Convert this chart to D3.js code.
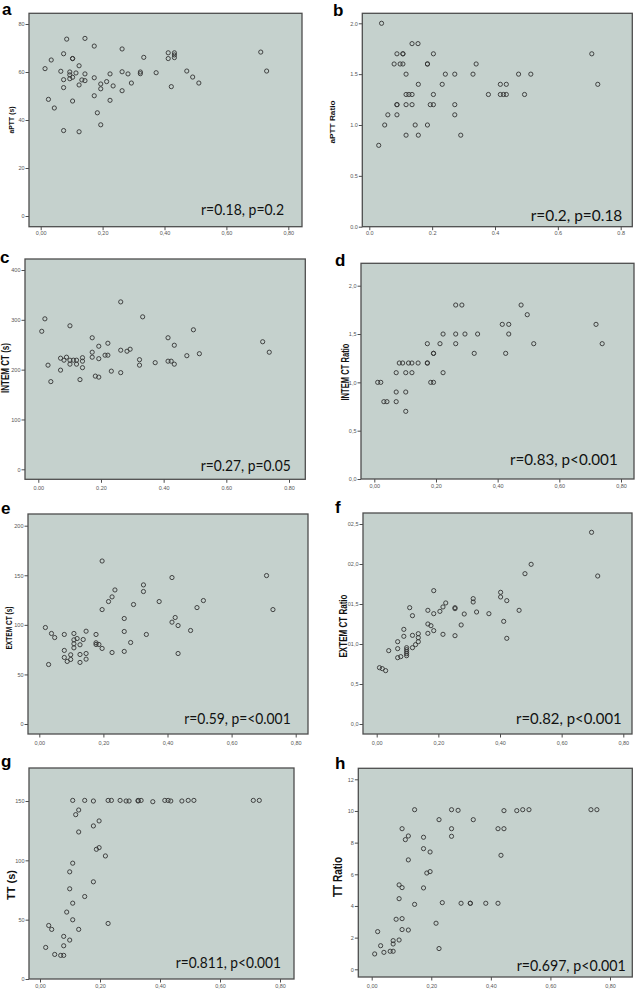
<!DOCTYPE html>
<html><head><meta charset="utf-8">
<script src="https://cdn.jsdelivr.net/npm/d3@7"></script>
<style>body{margin:0;background:#fff}svg{display:block}</style>
</head><body>
<svg id="chart" width="639" height="990"></svg>
<script>
// ---------- data (x = predictor, y = outcome) ----------
const apttSeconds = [[0.014,61.4],[0.025,48.6],[0.034,65],[0.044,45],[0.065,60.3],[0.074,67.6],[0.074,56.8],[0.074,53.5],[0.074,35.6],[0.084,73.7],[0.094,60],[0.094,58.8],[0.094,57.2],[0.103,65.6],[0.103,65.6],[0.103,57.8],[0.103,47.9],[0.114,59.6],[0.124,62.6],[0.124,54.6],[0.124,35.1],[0.133,56.7],[0.143,74],[0.143,59.2],[0.143,56.4],[0.173,70.8],[0.173,57.6],[0.173,50.1],[0.183,43],[0.194,55],[0.194,53],[0.194,38],[0.213,56],[0.224,59.2],[0.224,48.2],[0.234,54.2],[0.263,69.6],[0.263,60.1],[0.263,52.2],[0.282,59.2],[0.293,55.4],[0.322,60],[0.322,59.3],[0.333,66.1],[0.373,59.7],[0.412,68],[0.412,65.6],[0.422,53.9],[0.432,68],[0.432,67.1],[0.432,66],[0.472,60.4],[0.491,57.9],[0.511,55.4],[0.711,68.3],[0.730,60.4]];
const apttRatio = [[0.039,2.0],[0.136,1.8],[0.155,1.8],[0.088,1.7],[0.107,1.7],[0.107,1.7],[0.204,1.7],[0.708,1.7],[0.079,1.6],[0.098,1.6],[0.107,1.6],[0.185,1.6],[0.185,1.6],[0.340,1.6],[0.117,1.5],[0.242,1.5],[0.272,1.5],[0.330,1.5],[0.475,1.5],[0.514,1.5],[0.156,1.4],[0.232,1.4],[0.417,1.4],[0.436,1.4],[0.727,1.4],[0.117,1.3],[0.126,1.3],[0.136,1.3],[0.204,1.3],[0.379,1.3],[0.417,1.3],[0.427,1.3],[0.436,1.3],[0.494,1.3],[0.088,1.2],[0.088,1.2],[0.117,1.2],[0.136,1.2],[0.194,1.2],[0.204,1.2],[0.272,1.2],[0.059,1.1],[0.088,1.1],[0.272,1.1],[0.049,1.0],[0.146,1.0],[0.185,1.0],[0.117,0.9],[0.156,0.9],[0.291,0.9],[0.030,0.8]];
const intemCT = [[0.011,277],[0.021,302],[0.031,209],[0.040,176],[0.071,223],[0.071,199],[0.082,219],[0.090,225],[0.101,288],[0.101,219],[0.101,211],[0.112,219],[0.122,219],[0.122,211],[0.133,180],[0.141,224],[0.141,217],[0.141,204],[0.172,264],[0.172,235],[0.172,225],[0.182,187],[0.193,247],[0.193,222],[0.193,185],[0.213,229],[0.222,253],[0.222,229],[0.233,197],[0.263,336],[0.263,239],[0.263,194],[0.283,237],[0.293,241],[0.323,220],[0.323,209],[0.333,306],[0.373,214],[0.414,264],[0.414,217],[0.424,217],[0.434,249],[0.434,211],[0.474,228],[0.495,280],[0.514,232],[0.716,256],[0.737,235]];
const intemRatio = [[0.011,1.0],[0.021,1.0],[0.031,0.8],[0.041,0.8],[0.071,1.1],[0.071,0.9],[0.071,0.8],[0.081,1.2],[0.092,1.2],[0.102,1.1],[0.102,0.9],[0.102,0.7],[0.111,1.2],[0.122,1.2],[0.122,1.1],[0.142,1.2],[0.172,1.4],[0.172,1.2],[0.172,1.2],[0.183,1.0],[0.192,1.0],[0.192,1.3],[0.192,1.3],[0.213,1.4],[0.223,1.5],[0.223,1.1],[0.264,1.8],[0.264,1.5],[0.264,1.4],[0.284,1.8],[0.294,1.5],[0.324,1.3],[0.335,1.5],[0.415,1.6],[0.426,1.3],[0.436,1.6],[0.436,1.5],[0.476,1.8],[0.496,1.7],[0.517,1.4],[0.719,1.6],[0.739,1.4]];
const extemCT = [[0.019,97.3],[0.029,60],[0.038,91.3],[0.048,87.2],[0.078,90.3],[0.078,74.2],[0.078,67.1],[0.087,63.1],[0.098,69.8],[0.098,65.1],[0.108,91.3],[0.108,84.9],[0.108,80.9],[0.108,76.8],[0.118,86.2],[0.127,79.9],[0.127,70.1],[0.127,62.1],[0.137,85.2],[0.146,93.6],[0.146,71.1],[0.146,65.4],[0.177,90.3],[0.177,81.9],[0.177,80.2],[0.186,80.2],[0.196,164.4],[0.196,115.4],[0.196,76.2],[0.216,123.5],[0.227,128.2],[0.227,72.1],[0.236,135.2],[0.265,106.4],[0.265,93.3],[0.265,73.2],[0.285,82.2],[0.294,120.5],[0.325,140.3],[0.325,133.6],[0.334,90.3],[0.374,123.5],[0.414,147.7],[0.414,102.7],[0.424,107.4],[0.433,99.3],[0.433,71.1],[0.472,94.3],[0.492,117.4],[0.512,124.5],[0.709,149.7],[0.729,115.4]];
const extemRatio = [[0.009,0.704],[0.018,0.692],[0.029,0.667],[0.039,0.917],[0.068,1.029],[0.068,0.942],[0.068,0.829],[0.078,0.842],[0.088,1.183],[0.088,1.096],[0.097,0.954],[0.097,0.929],[0.097,0.904],[0.097,0.879],[0.097,0.854],[0.107,1.454],[0.116,1.354],[0.116,1.108],[0.116,0.954],[0.126,0.992],[0.135,1.129],[0.135,1.079],[0.135,1.029],[0.166,1.421],[0.166,1.25],[0.166,1.133],[0.176,1.229],[0.185,1.667],[0.185,1.379],[0.185,1.167],[0.205,1.408],[0.215,1.463],[0.215,1.121],[0.224,1.513],[0.254,1.454],[0.254,1.442],[0.254,1.104],[0.274,1.238],[0.284,1.375],[0.313,1.567],[0.313,1.525],[0.324,1.4],[0.364,1.379],[0.402,1.646],[0.402,1.588],[0.412,1.283],[0.422,1.542],[0.422,1.071],[0.462,1.421],[0.481,1.879],[0.501,1.996],[0.697,2.396],[0.717,1.85]];
const ttSeconds = [[0.019,26.6],[0.029,45.1],[0.039,41.8],[0.049,20.7],[0.069,19.9],[0.079,19.9],[0.079,35.9],[0.079,28],[0.089,56.4],[0.099,32.8],[0.099,76],[0.099,90.3],[0.109,150.5],[0.109,97.6],[0.109,63.9],[0.109,49.9],[0.119,138.5],[0.129,142.4],[0.129,123.9],[0.129,41.8],[0.149,150.5],[0.149,69.5],[0.178,150],[0.178,129],[0.178,81.9],[0.188,109.3],[0.197,133.2],[0.197,110.7],[0.218,103.7],[0.227,150.5],[0.227,46.8],[0.238,150.5],[0.267,150.5],[0.287,150],[0.297,150],[0.327,150],[0.327,150.5],[0.337,150.5],[0.376,149.4],[0.416,150.5],[0.427,150.5],[0.436,150],[0.473,150],[0.494,150.5],[0.513,150.5],[0.711,150.5],[0.731,150.5]];
const ttRatio = [[0.010,0.97],[0.020,2.38],[0.030,1.49],[0.041,1.07],[0.062,1.14],[0.072,1.14],[0.072,1.6],[0.072,1.81],[0.082,3.16],[0.092,4.46],[0.092,5.33],[0.092,1.85],[0.102,8.88],[0.102,5.16],[0.102,3.2],[0.102,2.51],[0.113,8.19],[0.123,8.42],[0.123,6.91],[0.123,2.48],[0.144,10.08],[0.144,4.1],[0.174,8.34],[0.174,7.62],[0.174,5.14],[0.185,6.08],[0.196,7.41],[0.196,6.17],[0.216,2.91],[0.226,9.45],[0.226,1.31],[0.237,4.21],[0.268,10.08],[0.268,8.88],[0.268,8.4],[0.290,10.04],[0.300,4.17],[0.331,4.17],[0.331,4.17],[0.341,9.45],[0.383,4.17],[0.424,8.88],[0.424,4.17],[0.434,7.2],[0.444,10.02],[0.444,8.88],[0.487,10.02],[0.507,10.08],[0.528,10.08],[0.736,10.08],[0.756,10.08]];

// ---------- tick values and labels ----------
const xTicks2 = [0, 0.2, 0.4, 0.6, 0.8];
const xLabComma = ["0,00", "0,20", "0,40", "0,60", "0,80"];
const xLabDot = ["0.00", "0.20", "0.40", "0.60", "0.80"];
const xLabShort = ["0.0", "0.2", "0.4", "0.6", "0.8"];
const yTicksA = [0, 20, 40, 60, 80];
const yTicksB = [0, 0.5, 1.0, 1.5, 2.0];
const yLabB = ["0.0", "0.5", "1.0", "1.5", "2.0"];
const yTicksC = [0, 100, 200, 300, 400];
const yTicksD = [0, 0.5, 1.0, 1.5, 2.0];
const yLabD = ["0,0", "0,5", "1,0", "1,5", "2,0"];
const yTicksE = [0, 50, 100, 150, 200];
const yTicksF = [0, 0.5, 1.0, 1.5, 2.0, 2.5];
const yLabF = ["0,0", "0,5", "01,0", "01,5", "02,0", "02,5"];
const yTicksG = [0, 50, 100, 150];
const yTicksH = [0, 2, 4, 6, 8, 10, 12];

// ---------- panels (content) ----------
const panels = [
  {id:"a", data:apttSeconds, xLab:xLabComma, yTicks:yTicksA, yLab:yTicksA.map(String), yMax:80, title:"aPTT (s)", note:"r=0.18, p=0.2"},
  {id:"b", data:apttRatio, xLab:xLabShort, yTicks:yTicksB, yLab:yLabB, yMax:2, title:"aPTT Ratio", note:"r=0.2, p=0.18"},
  {id:"c", data:intemCT, xLab:xLabDot, yTicks:yTicksC, yLab:yTicksC.map(String), yMax:400, title:"INTEM CT (s)", note:"r=0.27, p=0.05"},
  {id:"d", data:intemRatio, xLab:xLabComma, yTicks:yTicksD, yLab:yLabD, yMax:2, title:"INTEM CT Ratio", note:"r=0.83, p<0.001"},
  {id:"e", data:extemCT, xLab:xLabComma, yTicks:yTicksE, yLab:yTicksE.map(String), yMax:200, title:"EXTEM CT (s)", note:"r=0.59, p=<0.001"},
  {id:"f", data:extemRatio, xLab:xLabComma, yTicks:yTicksF, yLab:yLabF, yMax:2.5, title:"EXTEM CT Ratio", note:"r=0.82, p<0.001"},
  {id:"g", data:ttSeconds, xLab:xLabComma, yTicks:yTicksG, yLab:yTicksG.map(String), yMax:150, title:"TT (s)", note:"r=0.811, p<0.001"},
  {id:"h", data:ttRatio, xLab:xLabComma, yTicks:yTicksH, yLab:yTicksH.map(String), yMax:12, title:"TT Ratio", note:"r=0.697, p<0.001"}
];

// ---------- layout (positions/sizes) ----------
// frame:[l,t,r,b], xr: pixel of x=0 and x=0.8, yr: pixel of y=0 and y=yMax
const layout = {
  a:{frame:[29,13.3,302,226.7], xr:[40.7,288.3], yr:[216,24], xlabY:233, letter:[2,15], title:[11,120,7.5,27], note:[284,215,83]},
  b:{frame:[362.3,13.3,632.3,226.7], xr:[369.3,620.7], yr:[226.7,23.3], xlabY:233, letter:[333,16], title:[332,122,8,43], note:[622.3,221,91.6]},
  c:{frame:[25,259,305.3,479.3], xr:[38.3,289], yr:[469.3,270], xlabY:488, letter:[0,263], title:[5,368,10,50], note:[290.7,471,90]},
  d:{frame:[361,263.3,634,479], xr:[374.3,621], yr:[479,285.7], xlabY:486.5, letter:[335,266], title:[345,372,10,57], note:[617.7,465,107.7]},
  e:{frame:[28,514,308,734], xr:[39.3,295.7], yr:[724,525.7], xlabY:743, letter:[1,514], title:[9.3,628,9,43], note:[290.7,724,106.4]},
  f:{frame:[363,513,632,734], xr:[376.7,623.3], yr:[724,524], xlabY:743, letter:[335,513], title:[343,626,10,63], note:[621.7,724,105.7]},
  g:{frame:[29,768,294,979], xr:[40,280], yr:[979,801], xlabY:986, letter:[1,767], title:[11,885,11,30], note:[281,968,105.3]},
  h:{frame:[358.3,768.3,632.3,977], xr:[371.7,610], yr:[969.3,779.3], xlabY:986.5, letter:[335,769], title:[338,877,12,40], note:[625.7,970.5,109]}
};

const svg = d3.select("#chart");
const BG = "#c5d1cd", FRAME = "#4d4d4d", TICKTXT = "#555";

panels.forEach(p => {
  const L = layout[p.id];
  const [fl, ft, fr, fb] = L.frame;
  const g = svg.append("g").attr("class", "panel-" + p.id);

  const x = d3.scaleLinear().domain([0, 0.8]).range(L.xr);
  const y = d3.scaleLinear().domain([0, p.yMax]).range(L.yr);

  g.append("rect").attr("x", fl).attr("y", ft).attr("width", fr - fl).attr("height", fb - ft)
    .attr("fill", BG).attr("stroke", FRAME).attr("stroke-width", 1.3);

  // y axis
  const ya = g.append("g").attr("transform", `translate(${fl},0)`)
    .call(d3.axisLeft(y).tickValues(p.yTicks).tickFormat((d, i) => p.yLab[i]).tickSizeInner(3.5).tickSizeOuter(0).tickPadding(1));
  ya.select(".domain").remove();
  ya.selectAll("line").attr("stroke", FRAME).attr("stroke-width", 1);
  ya.selectAll("text").attr("font-family", "Liberation Sans, Arial, sans-serif").attr("font-size", 5.5).attr("fill", TICKTXT);

  // x axis
  const pad = Math.max(0.5, L.xlabY - fb - 3.5 - 2);
  const xa = g.append("g").attr("transform", `translate(0,${fb})`)
    .call(d3.axisBottom(x).tickValues(xTicks2).tickFormat((d, i) => p.xLab[i]).tickSizeInner(3.5).tickSizeOuter(0).tickPadding(pad));
  xa.select(".domain").remove();
  xa.selectAll("line").attr("stroke", FRAME).attr("stroke-width", 1);
  xa.selectAll("text").attr("font-family", "Liberation Sans, Arial, sans-serif").attr("font-size", 5.5).attr("fill", TICKTXT);

  // points
  g.append("g").selectAll("circle").data(p.data).join("circle")
    .attr("cx", d => x(d[0])).attr("cy", d => y(d[1])).attr("r", 2.1)
    .attr("fill", "none").attr("stroke", "#333").attr("stroke-width", 0.9);

  // y title
  const [tx, ty, ts, tl] = L.title;
  g.append("text").attr("transform", `translate(${tx},${ty}) rotate(-90)`)
    .attr("text-anchor", "middle").attr("dy", "0.35em")
    .attr("font-family", "Liberation Sans, Arial, sans-serif").attr("font-weight", "bold")
    .attr("font-size", ts).attr("fill", "#111")
    .attr("textLength", tl).attr("lengthAdjust", "spacingAndGlyphs")
    .text(p.title);

  // correlation note
  const [nx, ny, nw] = L.note;
  g.append("text").attr("x", nx - nw).attr("y", ny)
    .attr("font-family", "Lato, 'Open Sans', sans-serif").attr("font-size", 15.5).attr("fill", "#111")
    .attr("textLength", nw).attr("lengthAdjust", "spacingAndGlyphs")
    .text(p.note);

  // panel letter
  svg.append("text").attr("x", L.letter[0]).attr("y", L.letter[1])
    .attr("font-family", "Liberation Sans, Arial, sans-serif").attr("font-weight", "bold")
    .attr("font-size", 17).attr("fill", "#000").text(p.id);
});
</script>
</body></html>
